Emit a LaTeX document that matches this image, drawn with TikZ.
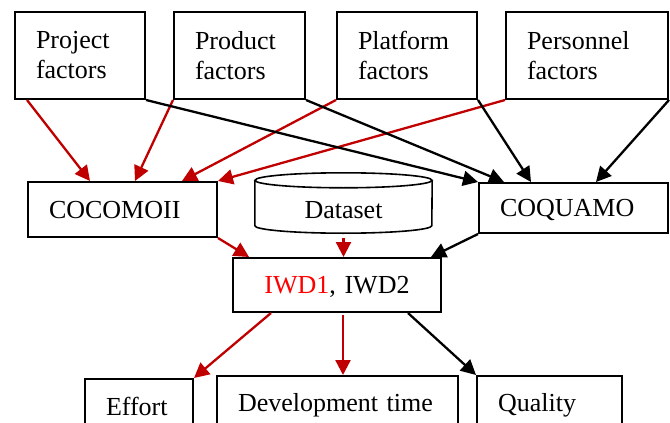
\documentclass[tikz,border=0pt]{standalone}
\usepackage{fontspec}
\setmainfont{Liberation Serif}
\usetikzlibrary{arrows.meta, calc}
\definecolor{sred}{HTML}{C00000}
\definecolor{tred}{HTML}{FF0000}
\tikzset{
  font=\fontsize{26}{30}\selectfont,
  box/.style={
    draw, line width=2pt, inner xsep=21pt, inner ysep=0pt, align=left
  },
  onebox/.style={box, text depth=0pt},
  drum/.style={line width=1.6pt},
  link/.style={-{Triangle[length=15pt,width=15pt]}, line width=2.3pt, draw=#1},
  link/.default=black
}
\begin{document}
\begin{tikzpicture}[x=1pt, y=-1pt]
  \useasboundingbox (0,0) rectangle (670,423);
  % factors
  \foreach \n/\x/\w/\tw/\t in {
    proj/80/130/88/Project, prod/239.5/131/89/Product,
    plat/407/140/98/Platform, pers/587/162/120/Personnel} {
    \node[box, minimum width=\w pt, minimum height=87pt, text width=\tw pt]
      (\n) at (\x,55.5) {\t\\factors};
  }
  % models and data
  \node[onebox, minimum width=189pt, minimum height=55pt, text width=147pt]
    (cocomo) at (122.5,209.5) {COCOMOII};
  \node[minimum width=177pt, minimum height=60pt, inner xsep=21pt, text width=135pt,
    align=center, text height=30pt, text depth=0pt] (data) at (343.5,203) {Dataset};
  \draw[drum] ([yshift=-7.5pt]data.north) ellipse [x radius=88.5pt, y radius=7.5pt];
  \draw[drum] ([yshift=-7.5pt]data.north west) -- ([yshift=7.5pt]data.south west)
    arc[start angle=180, end angle=360, x radius=88.5pt, y radius=7.5pt]
    -- ([yshift=-7.5pt]data.north east);
  \node[onebox, minimum width=189pt, minimum height=50pt, text width=147pt]
    (coq) at (573.5,208) {COQUAMO};
  \node[onebox, minimum width=208pt, minimum height=54pt, text width=166pt, align=center]
    (iwd) at (337,285) {\textcolor{tred}{IWD1}, IWD2};
  % outputs
  \node[onebox, minimum width=108pt, minimum height=55pt, text width=66pt]
    (effort) at (139,406.5) {Effort};
  \node[onebox, minimum width=241pt, minimum height=53pt, text width=199pt]
    (dev) at (337.5,402.5) {Development time};
  \node[onebox, minimum width=145pt, minimum height=53pt, text width=103pt]
    (qual) at (549.5,402.5) {Quality};
  % links
  \draw[link=sred] ([xshift=13pt]proj.south west) -- ([xshift=63pt]cocomo.north west);
  \draw[link=sred] (prod.south west) -- ([xshift=108pt]cocomo.north west);
  \draw[link=sred] (plat.south west) -- ([xshift=155pt]cocomo.north west);
  \draw[link=sred] (pers.south west) -- (cocomo.north east);
  \draw[link] (proj.south east) -- (coq.north west);
  \draw[link] (prod.south east) -- ([xshift=26pt]coq.north west);
  \draw[link] (plat.south east) -- ([xshift=53pt]coq.north west);
  \draw[link] (pers.south east) -- ([xshift=118pt]coq.north west);
  \draw[link=sred] (cocomo.south east) -- ([xshift=17pt]iwd.north west);
  \draw[link=sred] ([yshift=-5pt]data.south) -- (data.south |- iwd.north);
  \draw[link] (coq.south west) -- ([xshift=-11pt]iwd.north east);
  \draw[link=sred] ([xshift=39pt]iwd.south west) -- (effort.north east);
  \draw[link=sred] ([xshift=6pt,yshift=-2pt]iwd.south) -- ([xshift=6pt]iwd.south |- dev.north);
  \draw[link] ([xshift=-34pt]iwd.south east) -- (qual.north west);
\end{tikzpicture}
\end{document}
